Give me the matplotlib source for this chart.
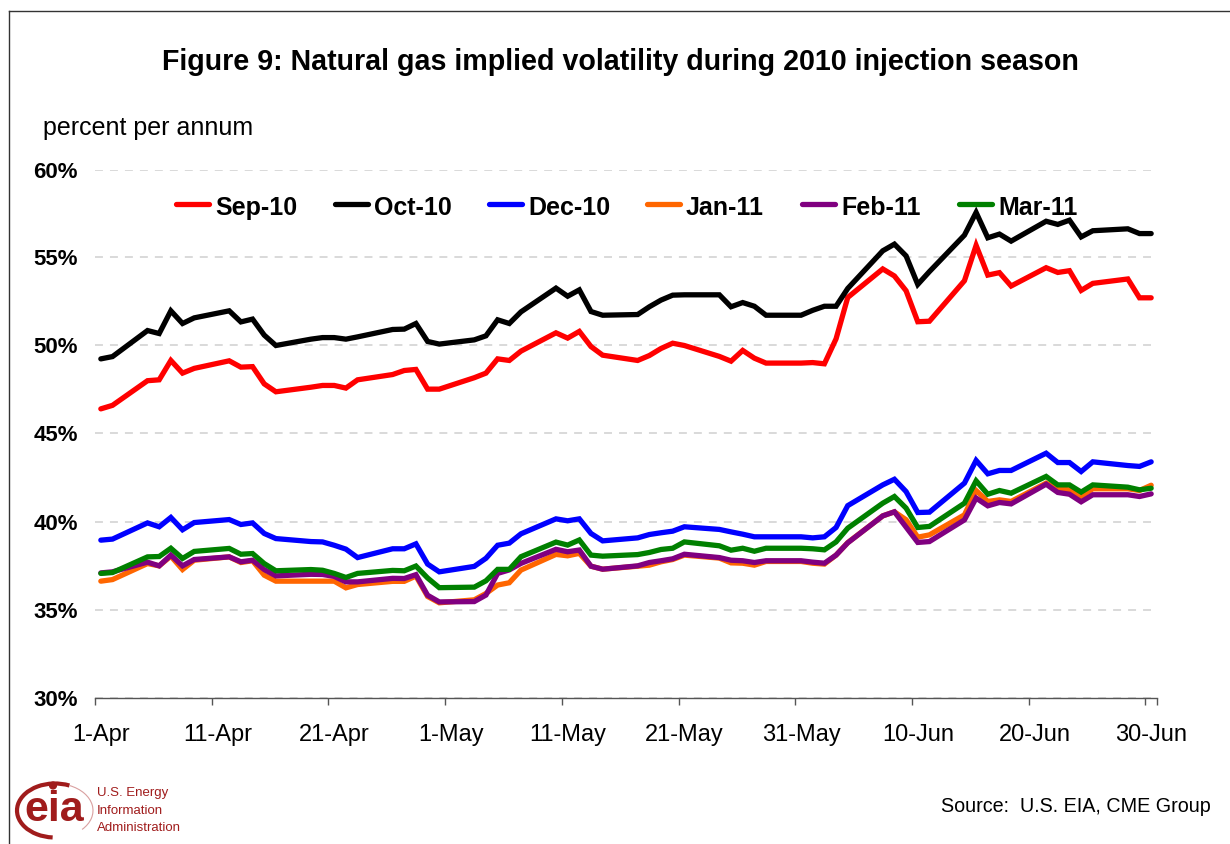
import pandas as pd
import matplotlib
matplotlib.use('Agg')
import matplotlib.pyplot as plt
from matplotlib.patches import Arc, Circle

plt.rcParams['font.family'] = ['Liberation Sans', 'DejaVu Sans']

W, H = 1230, 844

# trading days, weekdays only
dates = pd.bdate_range('2010-04-01', '2010-06-30')

sep10 = [46.4, 46.6,
         48.0, 48.05, 49.15, 48.43, 48.7,
         49.13, 48.77, 48.8, 47.82, 47.37,
         47.63, 47.73, 47.73, 47.58, 48.05,
         48.35, 48.58, 48.64, 47.52, 47.52,
         48.17, 48.43, 49.24, 49.15, 49.68,
         50.72, 50.42, 50.8, 49.94, 49.45,
         49.15, 49.43, 49.83, 50.13, 50.0,
         49.38, 49.11, 49.72, 49.28, 49.0,
         49.0, 49.03, 48.96, 50.38, 52.73,
         54.35, 53.95, 53.11, 51.35, 51.38,
         53.68, 55.69, 54.0, 54.14, 53.38,
         54.42, 54.15, 54.25, 53.13, 53.53,
         53.78, 52.71, 52.71]
oct10 = [49.24, 49.37,
         50.85, 50.68, 51.97, 51.25, 51.57,
         51.97, 51.34, 51.5, 50.59, 50.0,
         50.36, 50.45, 50.45, 50.36, 50.49,
         50.91, 50.93, 51.25, 50.23, 50.08,
         50.32, 50.55, 51.46, 51.25, 51.91,
         53.26, 52.8, 53.16, 51.93, 51.72,
         51.76, 52.2, 52.58, 52.86, 52.88,
         52.88, 52.2, 52.44, 52.23, 51.72,
         51.72, 52.0, 52.23, 52.23, 53.24,
         55.38, 55.76, 55.09, 53.47, 54.2,
         56.27, 57.56, 56.12, 56.33, 55.93,
         57.06, 56.88, 57.12, 56.17, 56.52,
         56.63, 56.36, 56.36]
dec10 = [38.94, 39.0,
         39.92, 39.7, 40.23, 39.53, 39.94,
         40.11, 39.83, 39.92, 39.32, 39.03,
         38.86, 38.84, 38.65, 38.43, 37.95,
         38.45, 38.45, 38.73, 37.58, 37.14,
         37.45, 37.91, 38.65, 38.77, 39.3,
         40.15, 40.04, 40.15, 39.32, 38.9,
         39.07, 39.26, 39.36, 39.45, 39.7,
         39.55, 39.41, 39.28, 39.13, 39.13,
         39.13, 39.07, 39.13, 39.66, 40.9,
         42.08, 42.4, 41.7, 40.51, 40.53,
         42.18, 43.47, 42.71, 42.9, 42.9,
         43.88, 43.35, 43.35, 42.84, 43.39,
         43.18, 43.13, 43.39]
jan11 = [36.61, 36.7,
         37.61, 37.48, 38.03, 37.27, 37.8,
         37.99, 37.67, 37.77, 36.95, 36.61,
         36.61, 36.61, 36.61, 36.23, 36.42,
         36.6, 36.6, 36.9, 35.74, 35.38,
         35.55, 35.91, 36.39, 36.52, 37.24,
         38.13, 38.05, 38.19, 37.46, 37.29,
         37.46, 37.52, 37.71, 37.84, 38.09,
         37.92, 37.65, 37.63, 37.52, 37.73,
         37.73, 37.63, 37.58, 38.09, 38.8,
         40.32, 40.55, 40.1, 39.11, 39.24,
         40.38, 41.76, 41.14, 41.23, 41.14,
         42.18, 41.84, 41.8, 41.42, 41.86,
         41.86, 41.76, 42.06]
feb11 = [37.08, 37.14,
         37.69, 37.48, 38.09, 37.48, 37.84,
         37.99, 37.71, 37.8, 37.27, 36.91,
         37.0, 36.99, 36.88, 36.57, 36.57,
         36.77, 36.76, 36.98, 35.81, 35.43,
         35.45, 35.82, 37.05, 37.25, 37.62,
         38.42, 38.28, 38.38, 37.46, 37.29,
         37.48, 37.67, 37.77, 37.88, 38.14,
         37.95, 37.8, 37.77, 37.67, 37.77,
         37.77, 37.69, 37.63, 38.09, 38.79,
         40.32, 40.55, 39.68, 38.81, 38.86,
         40.09, 41.33, 40.89, 41.08, 41.0,
         42.12, 41.65, 41.55, 41.12, 41.52,
         41.52, 41.42, 41.57]
mar11 = [37.05, 37.1,
         37.99, 38.01, 38.48, 37.9, 38.3,
         38.47, 38.14, 38.18, 37.61, 37.2,
         37.27, 37.23, 37.05, 36.82, 37.05,
         37.22, 37.2, 37.47, 36.79, 36.24,
         36.27, 36.63, 37.28, 37.28, 38.0,
         38.83, 38.66, 38.95, 38.09, 38.03,
         38.12, 38.24, 38.41, 38.48, 38.84,
         38.62, 38.37, 38.48, 38.31, 38.48,
         38.48, 38.45, 38.39, 38.84, 39.62,
         41.04, 41.42, 40.76, 39.66, 39.72,
         41.04, 42.31, 41.55, 41.76, 41.61,
         42.56, 42.08, 42.08, 41.67, 42.08,
         41.95, 41.8, 41.89]

series = [('Sep-10', sep10, '#FF0000'), ('Oct-10', oct10, '#000000'),
          ('Dec-10', dec10, '#0000FF'), ('Jan-11', jan11, '#FF6600'),
          ('Feb-11', feb11, '#800080'), ('Mar-11', mar11, '#008000')]

ytick_vals = [30, 35, 40, 45, 50, 55, 60]
xtick_labels = ['1-Apr', '11-Apr', '21-Apr', '1-May', '11-May', '21-May',
                '31-May', '10-Jun', '20-Jun', '30-Jun']

fig = plt.figure(figsize=(W / 100, H / 100), dpi=100)
ax = fig.add_axes([95 / W, 1 - 697.5 / H, (1157 - 95) / W, (697.5 - 169.5) / H])

# category axis, each day sits in the middle of its slot
x = (dates - dates[0]).days + 0.5
for name, vals, col in series:
    ax.plot(x, vals, color=col, lw=3.8, label=name, solid_joinstyle='miter',
            solid_capstyle='round', clip_on=False)

ax.set_xlim(0, 91)
ax.set_ylim(30, 60)
ax.set_yticks(ytick_vals)
ax.set_yticklabels([str(v) + '%' for v in ytick_vals], fontsize=16, fontweight='bold')
ax.yaxis.grid(True, color='#D0D0D0', lw=1.1, dashes=(5.2, 4.6))
ax.set_axisbelow(True)
ax.tick_params(axis='y', length=0, pad=12.5)

ax.set_xticks(list(range(0, 100, 10)) + [91])
ax.set_xticklabels([])
ax.set_xticks([i * 10 + 0.5 for i in range(10)], labels=xtick_labels, minor=True)
ax.tick_params(axis='x', which='major', length=5, width=1, color='#555555')
ax.tick_params(axis='x', which='minor', length=0, pad=19, labelsize=17)

for s in ['left', 'top', 'right']:
    ax.spines[s].set_visible(False)
ax.spines['bottom'].set_color('#555555')
ax.spines['bottom'].set_linewidth(1)

# legend placed by hand, one key per series
legend_x = [176, 335, 489, 647, 802, 959]
for (name, vals, col), lx in zip(series, legend_x):
    fig.add_artist(plt.Line2D([lx / W, (lx + 33) / W], [1 - 204 / H, 1 - 204 / H], color=col,
                              lw=3.8, solid_capstyle='round'))
    fig.text((lx + 39) / W, 1 - 215 / H, name, ha='left', va='baseline',
             fontsize=18, fontweight='bold')

fig.text(620 / W, 1 - 62 / H, 'Figure 9: Natural gas implied volatility during 2010 injection season',
         ha='center', va='center', fontsize=20.6, fontweight='bold')
fig.text(43 / W, 1 - 128 / H, 'percent per annum', ha='left', va='center', fontsize=18)
fig.text(1211 / W, 1 - 807 / H, 'Source:  U.S. EIA, CME Group', ha='right', va='center', fontsize=14.2)

# outer chart frame
fig.add_artist(plt.Line2D([8.5 / W, 8.5 / W], [0, 1 - 10.5 / H], color='#333333', lw=1))
fig.add_artist(plt.Line2D([8.5 / W, 1], [1 - 10.5 / H, 1 - 10.5 / H], color='#333333', lw=1))

# eia logo, drawn in pixel coordinates
logo = fig.add_axes([0, 0, 1, 1], facecolor='none')
logo.set_xlim(0, W)
logo.set_ylim(H, 0)
logo.axis('off')
red = '#A01C1C'
logo.add_patch(Arc((55, 810.5), 76, 54, angle=0, theta1=95, theta2=300, color=red, lw=3))
logo.add_patch(Arc((55, 810.5), 76, 54, angle=0, theta1=300, theta2=395, color='#D9A0A0', lw=0.8))
logo.add_patch(Circle((53, 785.5), 3.4, color=red))
logo.text(54, 810, 'eia', color=red, fontsize=31, fontweight='bold', ha='center', va='center')
for i, t in enumerate(['U.S. Energy', 'Information', 'Administration']):
    logo.text(97, 793 + i * 17.5, t, color=red, fontsize=9.5, ha='left', va='center')

fig.savefig('out.png', dpi=100)
